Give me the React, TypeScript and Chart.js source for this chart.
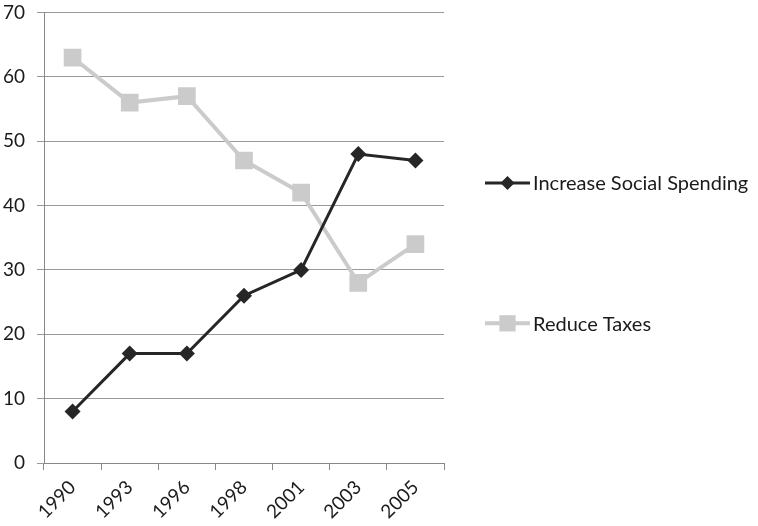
import React, { useEffect, useRef } from "react";
import { Chart, registerables } from "chart.js";

Chart.register(...registerables);

const years = ["1990", "1993", "1996", "1998", "2001", "2003", "2005"];
const increaseSocialSpending = [8, 17, 17, 26, 30, 48, 47];
const reduceTaxes = [63, 56, 57, 47, 42, 28, 34];
const seriesNames = ["Increase Social Spending", "Reduce Taxes"];

const FONT = "Lato, 'Open Sans', sans-serif";
const DARK = "#262626";
const LIGHT = "#cbcbcb";

const legendPlugin = {
  id: "sideLegend",
  afterDraw(chart: any) {
    const ctx = chart.ctx;
    const area = chart.chartArea;
    const yScale = chart.scales.y;
    const entries = [
      { name: seriesNames[0], color: DARK, style: "rectRot", radius: 7, width: 3, y: yScale.getPixelForValue(43.5) },
      { name: seriesNames[1], color: LIGHT, style: "rect", radius: 11.5, width: 4, y: yScale.getPixelForValue(21.7) },
    ];
    const x0 = area.right + 41;
    const x1 = x0 + 45;
    ctx.save();
    entries.forEach((e) => {
      ctx.strokeStyle = e.color;
      ctx.lineWidth = e.width;
      ctx.beginPath();
      ctx.moveTo(x0, e.y);
      ctx.lineTo(x1, e.y);
      ctx.stroke();
      ctx.fillStyle = e.color;
      const cx = (x0 + x1) / 2;
      if (e.style === "rectRot") {
        ctx.beginPath();
        ctx.moveTo(cx, e.y - e.radius);
        ctx.lineTo(cx + e.radius, e.y);
        ctx.lineTo(cx, e.y + e.radius);
        ctx.lineTo(cx - e.radius, e.y);
        ctx.closePath();
        ctx.fill();
      } else {
        const s = e.radius * Math.SQRT1_2;
        ctx.fillRect(cx - s, e.y - s, 2 * s, 2 * s);
      }
      ctx.fillStyle = "#1a1a1a";
      ctx.font = "20px " + FONT;
      ctx.textBaseline = "middle";
      ctx.textAlign = "left";
      ctx.fillText(e.name, x1 + 3, e.y + 1);
    });
    ctx.restore();
  },
};

export default function App() {
  const ref = useRef<HTMLCanvasElement>(null);
  useEffect(() => {
    if (!ref.current) return;
    const chart = new Chart(ref.current, {
      type: "line",
      data: {
        labels: years,
        datasets: [
          {
            label: seriesNames[0],
            data: increaseSocialSpending,
            borderColor: DARK,
            backgroundColor: DARK,
            borderWidth: 3,
            pointStyle: "rectRot",
            pointRadius: 8,
            pointBorderWidth: 0,
            tension: 0,
          },
          {
            label: seriesNames[1],
            data: reduceTaxes,
            borderColor: LIGHT,
            backgroundColor: LIGHT,
            borderWidth: 4,
            pointStyle: "rect",
            pointRadius: 12.5,
            pointBorderWidth: 0,
            tension: 0,
          },
        ],
      },
      plugins: [legendPlugin],
      options: {
        animation: false,
        responsive: false,
        layout: { padding: { left: 0, right: 314, top: 10, bottom: 0 } },
        plugins: {
          legend: { display: false },
          tooltip: { enabled: false },
        },
        scales: {
          x: {
            offset: true,
            afterFit: (s: any) => {
              s.paddingLeft = 0;
              s.paddingRight = 0;
              s.height = 63;
            },
            grid: {
              display: true,
              drawOnChartArea: false,
              drawTicks: true,
              tickLength: 7,
              color: "#888",
              offset: true,
            },
            border: { color: "#888", width: 1 },
            ticks: {
              maxRotation: 45,
              minRotation: 45,
              color: "#1a1a1a",
              font: { family: FONT, size: 19 },
              padding: 6,
            },
          },
          y: {
            min: 0,
            max: 70,
            afterFit: (s: any) => {
              s.paddingTop = 0;
              s.paddingBottom = 0;
              s.width = 44;
            },
            ticks: {
              stepSize: 10,
              color: "#1a1a1a",
              font: { family: FONT, size: 19 },
              padding: 12,
            },
            grid: { color: "#999", tickLength: 7, lineWidth: 1 },
            border: { color: "#888", width: 1 },
          },
        },
      },
    });
    return () => chart.destroy();
  }, []);
  return (
    <div style={{ position: "fixed", left: 0, top: 0, width: 758, height: 526, background: "#fff" }}>
      <canvas ref={ref} width={758} height={526} style={{ width: 758, height: 526 }} />
    </div>
  );
}
